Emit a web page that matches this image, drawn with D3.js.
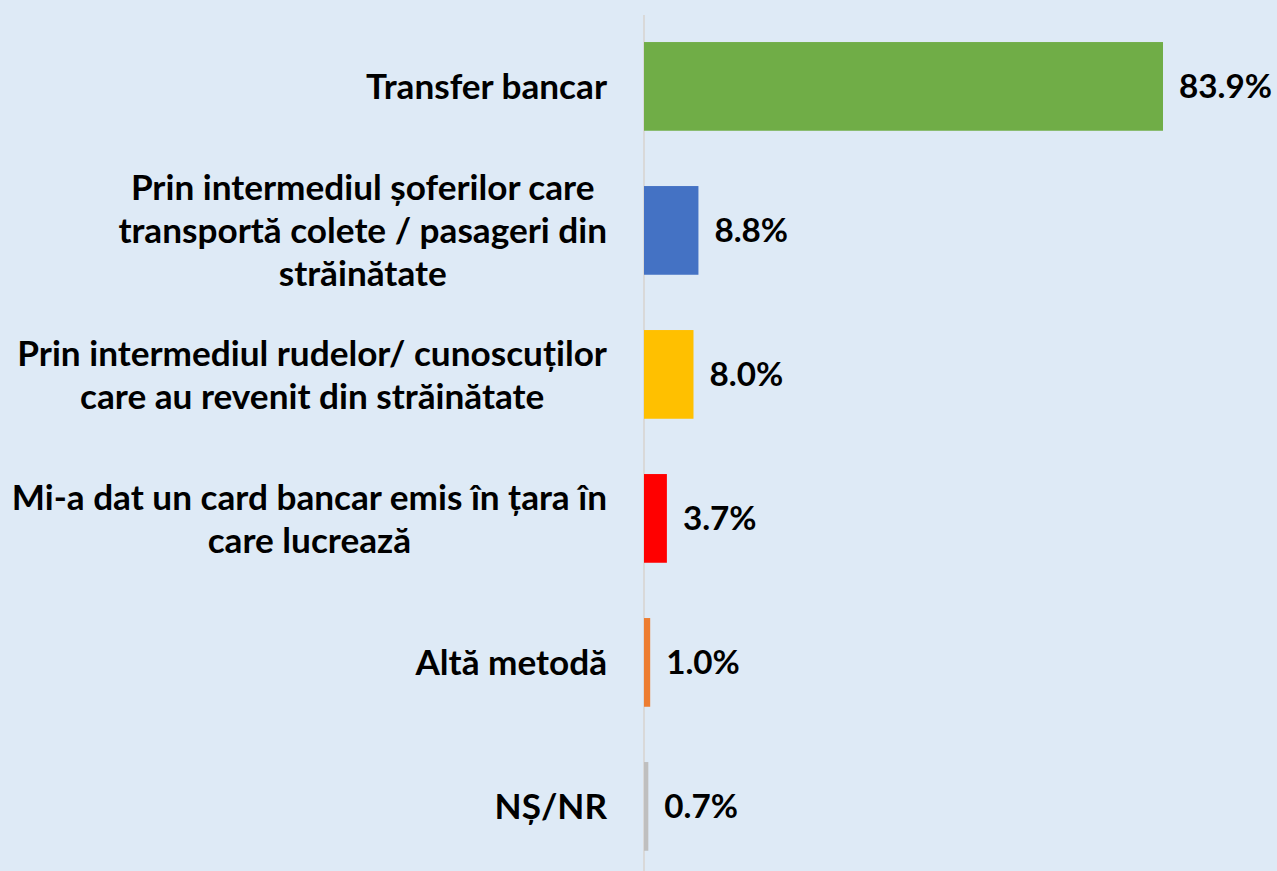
<!DOCTYPE html>
<html>
<head>
<meta charset="utf-8">
<script src="https://cdn.jsdelivr.net/npm/d3@7"></script>
<style>
  html, body { margin: 0; padding: 0; background: #DEEAF6; }
  svg { display: block; }
</style>
</head>
<body>
<svg id="chart" width="1277" height="871"></svg>
<script>
// ---- data ----
const categories = [
  "Transfer bancar",
  "Prin intermediul șoferilor care|transportă colete / pasageri din|străinătate",
  "Prin intermediul rudelor/ cunoscuților|care au revenit din străinătate",
  "Mi-a dat un card bancar emis în țara în|care lucrează",
  "Altă metodă",
  "NȘ/NR"
];
const values = [83.9, 8.8, 8.0, 3.7, 1.0, 0.7];
const barColors = ["#70AD47", "#4472C4", "#FFC000", "#FF0000", "#ED7D31", "#BFBFBF"];
const valueLabels = ["83.9%", "8.8%", "8.0%", "3.7%", "1.0%", "0.7%"];

// ---- layout ----
const W = 1277, H = 871;
const svg = d3.select("#chart");
svg.append("rect").attr("width", W).attr("height", H).attr("fill", "#DEEAF6");

const x = d3.scaleLinear().domain([0, 100]).range([644, 644 + 618.6]);
const y = d3.scaleBand().domain(categories).range([14.4, 878.4])
  .paddingInner(0.384).paddingOuter(0.192);

const fontFamily = "Lato, 'Open Sans', sans-serif";

// measure helper
function measure(text, size) {
  const t = svg.append("text").attr("font-family", fontFamily)
    .attr("font-weight", "bold").attr("font-size", size).text(text);
  const w = t.node().getComputedTextLength();
  t.remove();
  return w;
}
const labelSize = 100 * 590 / measure("Prin intermediul rudelor/ cunoscuților", 100);
const valueSize = 100 * 93 / measure("83.9%", 100);

// axis line
svg.append("line")
  .attr("x1", x(0)).attr("x2", x(0))
  .attr("y1", 15).attr("y2", H)
  .attr("stroke", "#D9D9D9").attr("stroke-width", 2);

// bars
svg.selectAll("rect.bar").data(categories).enter().append("rect")
  .attr("class", "bar")
  .attr("x", x(0))
  .attr("y", d => y(d))
  .attr("width", (d, i) => x(values[i]) - x(0))
  .attr("height", y.bandwidth())
  .attr("fill", (d, i) => barColors[i]);

// value labels
svg.selectAll("text.val").data(categories).enter().append("text")
  .attr("class", "val")
  .attr("x", (d, i) => x(values[i]) + 16)
  .attr("y", d => y(d) + y.bandwidth() / 2)
  .attr("dy", "0.36em")
  .attr("font-family", fontFamily)
  .attr("font-weight", "bold")
  .attr("font-size", valueSize)
  .attr("fill", "#000")
  .text((d, i) => valueLabels[i]);

// category labels (centered multiline, right-aligned block)
const rightEdge = 607;
const lineH = 43;
categories.forEach(cat => {
  const lines = cat.split("|");
  const maxW = d3.max(lines, l => measure(l, labelSize));
  const cx = rightEdge - maxW / 2;
  const cy = y(cat) + y.bandwidth() / 2;
  const t = svg.append("text")
    .attr("text-anchor", "middle")
    .attr("font-family", fontFamily)
    .attr("font-weight", "bold")
    .attr("font-size", labelSize)
    .attr("fill", "#000");
  lines.forEach((l, j) => {
    t.append("tspan")
      .attr("x", cx)
      .attr("y", cy + (j - (lines.length - 1) / 2) * lineH)
      .attr("dy", "0.36em")
      .text(l);
  });
});
</script>
</body>
</html>
